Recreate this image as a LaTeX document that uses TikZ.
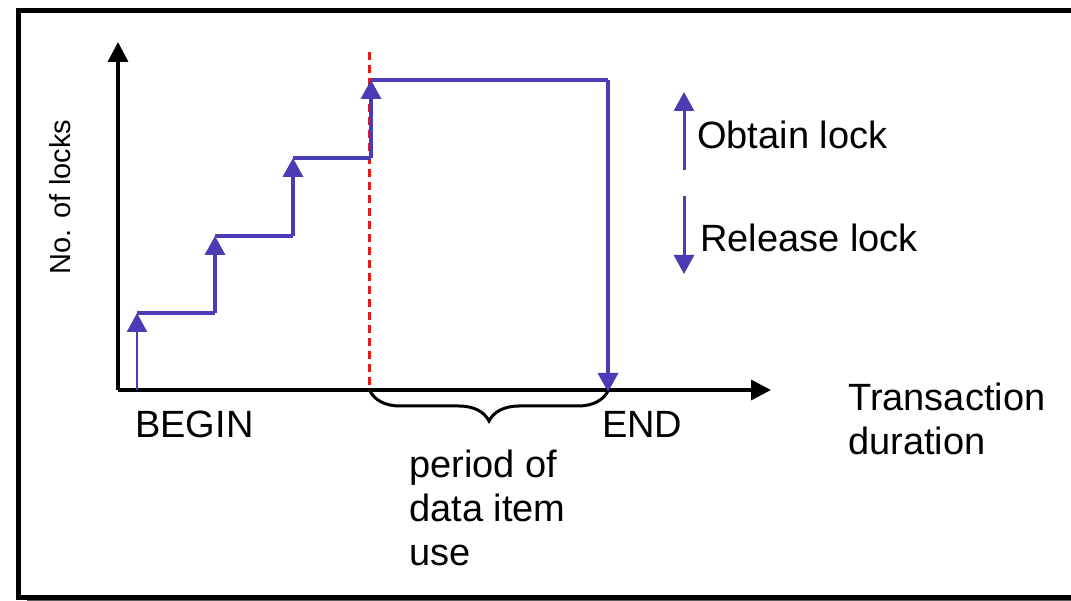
\documentclass[tikz,border=0pt]{standalone}
\usepackage{fontspec}
\setmainfont{Liberation Sans}
\usetikzlibrary{arrows.meta,decorations.pathreplacing}
\definecolor{lockblue}{RGB}{74,60,180}
\definecolor{phasered}{RGB}{228,26,28}
\begin{document}
\begin{tikzpicture}[x=1pt,y=-1pt,
  axis/.style={line width=3.5pt,-{Triangle[width=20pt,length=20pt]}},
  lockline/.style={lockblue,line width=3.5pt},
  gain/.style={lockline,-{Triangle[width=20pt,length=19pt]}},
  lose/.style={lockline,-{Triangle[width=20pt,length=19pt]}},
  lbl/.style={font=\fontsize{38}{44}\selectfont,inner sep=0pt,anchor=base west},
]
\useasboundingbox (0,0) rectangle (1071,601);
% outer frame with its thin shadow
\begin{scope}
  \clip (0,0) rectangle (1071,601);
  \draw[gray!70!black,line width=2pt] (27,600) -- (1090,600);
  \draw[line width=5pt] (18,11) rectangle (1100,597);
\end{scope}

% axes
\coordinate (O) at (118,390);
\coordinate (ytop) at (118,42);
\coordinate (xend) at (771,390);
\draw[axis] (O) -- (ytop);
\draw[axis] (O) -- (xend);
\node[font=\fontsize{29}{34}\selectfont,rotate=90,anchor=base,inner sep=0pt]
  (ylabel) at (70,197) {No. of locks};

% end of the growing phase
\draw[phasered,line width=3pt,dash pattern=on 8pt off 5pt] (369,52) -- (369,390);

% lock count over time
\coordinate (s0) at (137,390);
\coordinate (s1) at (137,313);
\coordinate (h1) at (215,313);
\coordinate (s2) at (215,236);
\coordinate (h2) at (293,236);
\coordinate (s3) at (293,158);
\coordinate (h3) at (371,158);
\coordinate (s4) at (371,80);
\coordinate (h4) at (608,80);
\coordinate (s5) at (608,392);
\draw[gain,line width=2.5pt] (s0) -- (s1);
\draw[lockline] (s1) -- (h1);
\draw[gain] (h1) -- (s2);
\draw[lockline] (s2) -- (h2);
\draw[gain] (h2) -- (s3);
\draw[lockline] (s3) -- (h3);
\draw[gain] (h3) -- (s4);
\draw[lockline] (s4) -- (h4);
\draw[lose] (h4) -- (s5);

% period of data item use
\draw[line width=3pt,decorate,decoration={brace,amplitude=30pt}]
  (608,391) -- (370,391);

% legend
\coordinate (g0) at (684,170);
\coordinate (g1) at (684,92);
\coordinate (r0) at (684,196);
\coordinate (r1) at (684,274);
\draw[gain,line width=3pt] (g0) -- (g1);
\draw[lose,line width=3pt] (r0) -- (r1);
\node[lbl] (obtain) at (697,149) {Obtain lock};
\node[lbl] (release) at (700,252) {Release lock};

% axis labels
\node[lbl] (begin) at (135,438) {BEGIN};
\node[lbl] (end) at (602,438) {END};
\node[lbl] (dur1) at (848,410) {Transaction};
\node[lbl] (dur2) at (848,454) {duration};
\node[lbl] (use1) at (409,477) {period of};
\node[lbl] (use2) at (409,521) {data item};
\node[lbl] (use3) at (409,565) {use};
\end{tikzpicture}
\end{document}
